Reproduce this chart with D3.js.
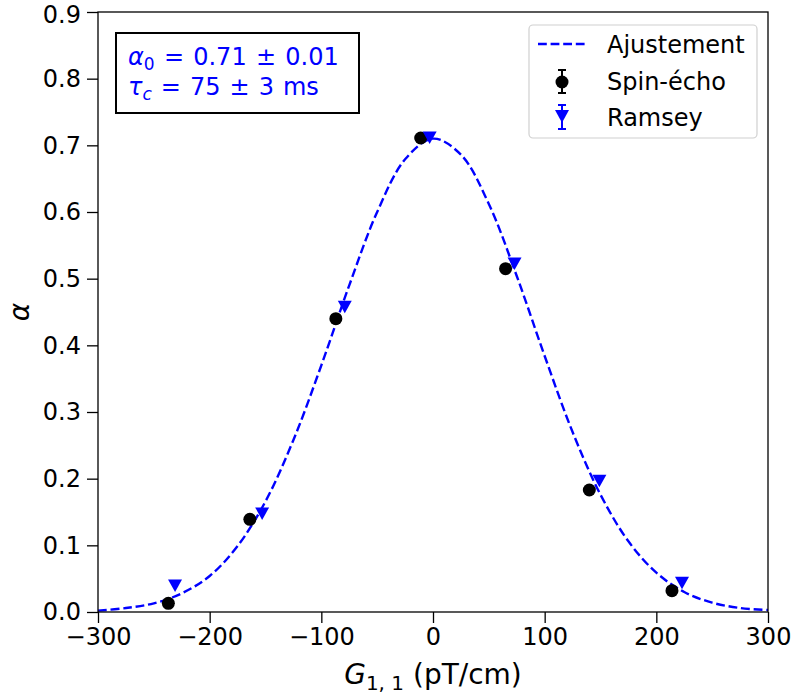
<!DOCTYPE html>
<html><head><meta charset="utf-8">
<script src="https://cdn.jsdelivr.net/npm/d3@7"></script>
<style>body{margin:0;background:#fff}svg{display:block;font-family:"DejaVu Sans",sans-serif}</style>
</head><body>
<svg id="c" width="793" height="696"></svg>
<script>
// Data
const spinX = [-237, -164, -87, -11, 65, 140, 214];
const spinY = [0.013, 0.139, 0.440, 0.711, 0.515, 0.183, 0.032];
const ramseyX = [-231, -153, -79, -3, 73, 149, 223];
const ramseyY = [0.040, 0.148, 0.458, 0.712, 0.523, 0.197, 0.044];
const fitX = [-300,-275,-250,-225,-200,-175,-150,-125,-100,-75,-50,-25,0,25,50,75,100,125,150,175,200,225,250,275,300];
const fitY = [0.002,0.006,0.013,0.028,0.054,0.099,0.166,0.258,0.370,0.490,0.600,0.679,0.710,0.686,0.612,0.504,0.384,0.270,0.176,0.106,0.059,0.030,0.014,0.006,0.003];
const xTicks = [-300,-200,-100,0,100,200,300];
const yTicks = [0.0,0.1,0.2,0.3,0.4,0.5,0.6,0.7,0.8,0.9];
const legendLabels = ["Ajustement","Spin-écho","Ramsey"];

const svg = d3.select("#c");
const L=98, R=768, T=12, B=612;
const x = d3.scaleLinear().domain([-300,300]).range([L,R]);
const y = d3.scaleLinear().domain([0,0.9]).range([B,T]);
const blue="#0000ff";

// fit line
svg.append("path")
  .datum(fitX.map((v,i)=>[v,fitY[i]]))
  .attr("d", d3.line().x(d=>x(d[0])).y(d=>y(d[1])).curve(d3.curveCatmullRom))
  .attr("fill","none").attr("stroke",blue).attr("stroke-width",2.4)
  .attr("stroke-dasharray","8.8,3.8");

// markers
const tri = (cx,cy,s)=>`M${cx-s},${cy-s*0.85}L${cx+s},${cy-s*0.85}L${cx},${cy+s*0.95}Z`;
svg.selectAll(".sp").data(spinX).enter().append("circle")
  .attr("cx",(d)=>x(d)).attr("cy",(d,i)=>y(spinY[i])).attr("r",6.5).attr("fill","#000");
svg.selectAll(".ra").data(ramseyX).enter().append("path")
  .attr("d",(d,i)=>tri(x(d),y(ramseyY[i]),7)).attr("fill",blue);

// axes
const fs = "24px";
const xa = svg.append("g").attr("transform",`translate(0,${B})`)
  .call(d3.axisBottom(x).tickValues(xTicks).tickSize(11).tickPadding(5).tickFormat(d=>d3.format("d")(d).replace("-","\u2212")));
const ya = svg.append("g").attr("transform",`translate(${L},0)`)
  .call(d3.axisLeft(y).tickValues(yTicks).tickSize(11).tickPadding(6).tickFormat(d3.format(".1f")));
[xa,ya].forEach(a=>{
  a.select(".domain").remove();
  a.selectAll("line").attr("stroke","#000").attr("stroke-width",1.3);
  a.selectAll("text").attr("font-size",fs).attr("fill","#000").attr("font-family","DejaVu Sans");
});
// keep the top label inside the page
ya.selectAll(".tick").filter(d=>d===0.9).select("text").attr("dy","0.45em");
svg.append("rect").attr("x",L).attr("y",T).attr("width",R-L).attr("height",B-T)
  .attr("fill","none").attr("stroke","#000").attr("stroke-width",1.3);

// axis labels
const xl = svg.append("text").attr("x",433).attr("y",684).attr("text-anchor","middle").attr("font-size","28px");
xl.append("tspan").attr("font-style","italic").text("G");
xl.append("tspan").attr("font-size","20px").attr("dy",6).text("1, 1");
xl.append("tspan").attr("dy",-6).text(" (pT/cm)");
svg.append("text").attr("transform","translate(29,312) rotate(-90)").attr("text-anchor","middle")
  .attr("font-size","28px").attr("font-style","italic").text("α");

// parameter box
svg.append("rect").attr("x",116).attr("y",33).attr("width",243).attr("height",80)
  .attr("fill","#fff").attr("stroke","#000").attr("stroke-width",2);
const t1 = svg.append("text").attr("x",128).attr("y",65).attr("font-size","24px").attr("fill",blue).attr("word-spacing","1.6px");
t1.append("tspan").attr("font-style","italic").text("α");
t1.append("tspan").attr("font-size","17px").attr("dy",5).text("0");
t1.append("tspan").attr("dy",-5).text(" = 0.71 ± 0.01");
const t2 = svg.append("text").attr("x",128).attr("y",95).attr("font-size","24px").attr("fill",blue).attr("word-spacing","1.4px");
t2.append("tspan").attr("font-style","italic").text("τ");
t2.append("tspan").attr("font-size","17px").attr("font-style","italic").attr("dy",5).text("c");
t2.append("tspan").attr("dy",-5).text(" = 75 ± 3 ms");

// legend
svg.append("rect").attr("x",529).attr("y",25).attr("width",228).attr("height",113).attr("rx",4)
  .attr("fill","#fff").attr("fill-opacity",0.8).attr("stroke","#d0d0d0").attr("stroke-width",1.2);
svg.append("line").attr("x1",538).attr("x2",586).attr("y1",44).attr("y2",44)
  .attr("stroke",blue).attr("stroke-width",2.4).attr("stroke-dasharray","8.8,3.8");
// legend markers with error bars
const lg = svg.append("g");
lg.append("line").attr("x1",562).attr("x2",562).attr("y1",70).attr("y2",93).attr("stroke","#000").attr("stroke-width",2);
lg.append("line").attr("x1",558).attr("x2",566).attr("y1",70).attr("y2",70).attr("stroke","#000").attr("stroke-width",2);
lg.append("line").attr("x1",558).attr("x2",566).attr("y1",93).attr("y2",93).attr("stroke","#000").attr("stroke-width",2);
lg.append("circle").attr("cx",562).attr("cy",82).attr("r",6.5).attr("fill","#000");
lg.append("line").attr("x1",562).attr("x2",562).attr("y1",105).attr("y2",129).attr("stroke",blue).attr("stroke-width",2);
lg.append("line").attr("x1",558).attr("x2",566).attr("y1",105).attr("y2",105).attr("stroke",blue).attr("stroke-width",2);
lg.append("line").attr("x1",558).attr("x2",566).attr("y1",129).attr("y2",129).attr("stroke",blue).attr("stroke-width",2);
lg.append("path").attr("d",tri(562,116,7)).attr("fill",blue);
legendLabels.forEach((s,i)=>{
  svg.append("text").attr("x",607).attr("y",53+i*36.5).attr("font-size","24px").attr("fill","#000").text(s);
});
</script>
</body></html>
